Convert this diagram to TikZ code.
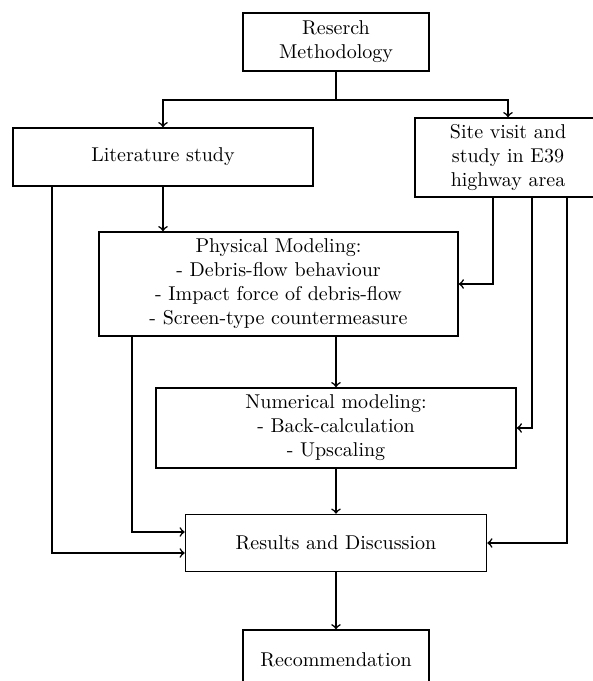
\documentclass[tikz,border=0pt]{standalone}
\usepackage{tikz}
\usetikzlibrary{arrows,positioning,calc}
\begin{document}
\begin{tikzpicture}
[x=0.5pt,y=-0.5pt,
flow/.style={->, thick},
block/.style={draw=black,thick,align=center,inner sep=2pt}]
\useasboundingbox (0,0) rectangle (593,681);
\node (method) [block,minimum width=93pt,minimum height=29pt] at (336,42) {Reserch\\Methodology};
%%
\node (lit) [block,minimum width=150pt,minimum height=29pt] at (163,157) {Literature study};
\node (site) [block,minimum width=93pt,minimum height=39.5pt] at (508,157.5) {Site visit and\\study in E39\\highway area};
%%
\coordinate (split) at (336,100);
\draw[thick] (method.south) -- (split);
\draw[flow] (split) -| (lit.north);
\draw[flow] (split) -| (site.north);
%%
\node (phys) [block,minimum width=179.5pt,minimum height=52pt] at (278.5,284) {Physical Modeling:\\
- Debris-flow behaviour\\
- Impact force of debris-flow\\
- Screen-type countermeasure};
%%
\draw[flow] (lit.south) -- (lit.south |- phys.north);
\draw[flow] ([xshift=-7.5pt]site.south) |- (phys.east);
%%
\node (num) [block,minimum width=180pt,minimum height=40pt] at (336,428) {Numerical modeling:\\
- Back-calculation\\
- Upscaling};
%%
\draw[flow] (phys.south -| num.north) -- (num.north);
\draw[flow] ([xshift=12pt]site.south) |- (num.east);
%%
\node (res) [block,minimum width=150.5pt,minimum height=28.5pt] at (336,543) {Results and Discussion};
%%
\draw[flow] (num) -- (res);
\draw[flow] ([xshift=17pt]phys.south west) |- ([yshift=5.5pt]res.west);
\draw[flow] ([xshift=20pt]lit.south west) |- ([yshift=-5pt]res.west);
\draw[flow] ([xshift=29.5pt]site.south) |- (res.east);
%%
\node (rec) [block,minimum width=93pt,minimum height=30pt,below=28.5pt of res] {Recommendation};
%%
\draw[flow] (res) -- (rec);
%%
\end{tikzpicture}
\end{document}
